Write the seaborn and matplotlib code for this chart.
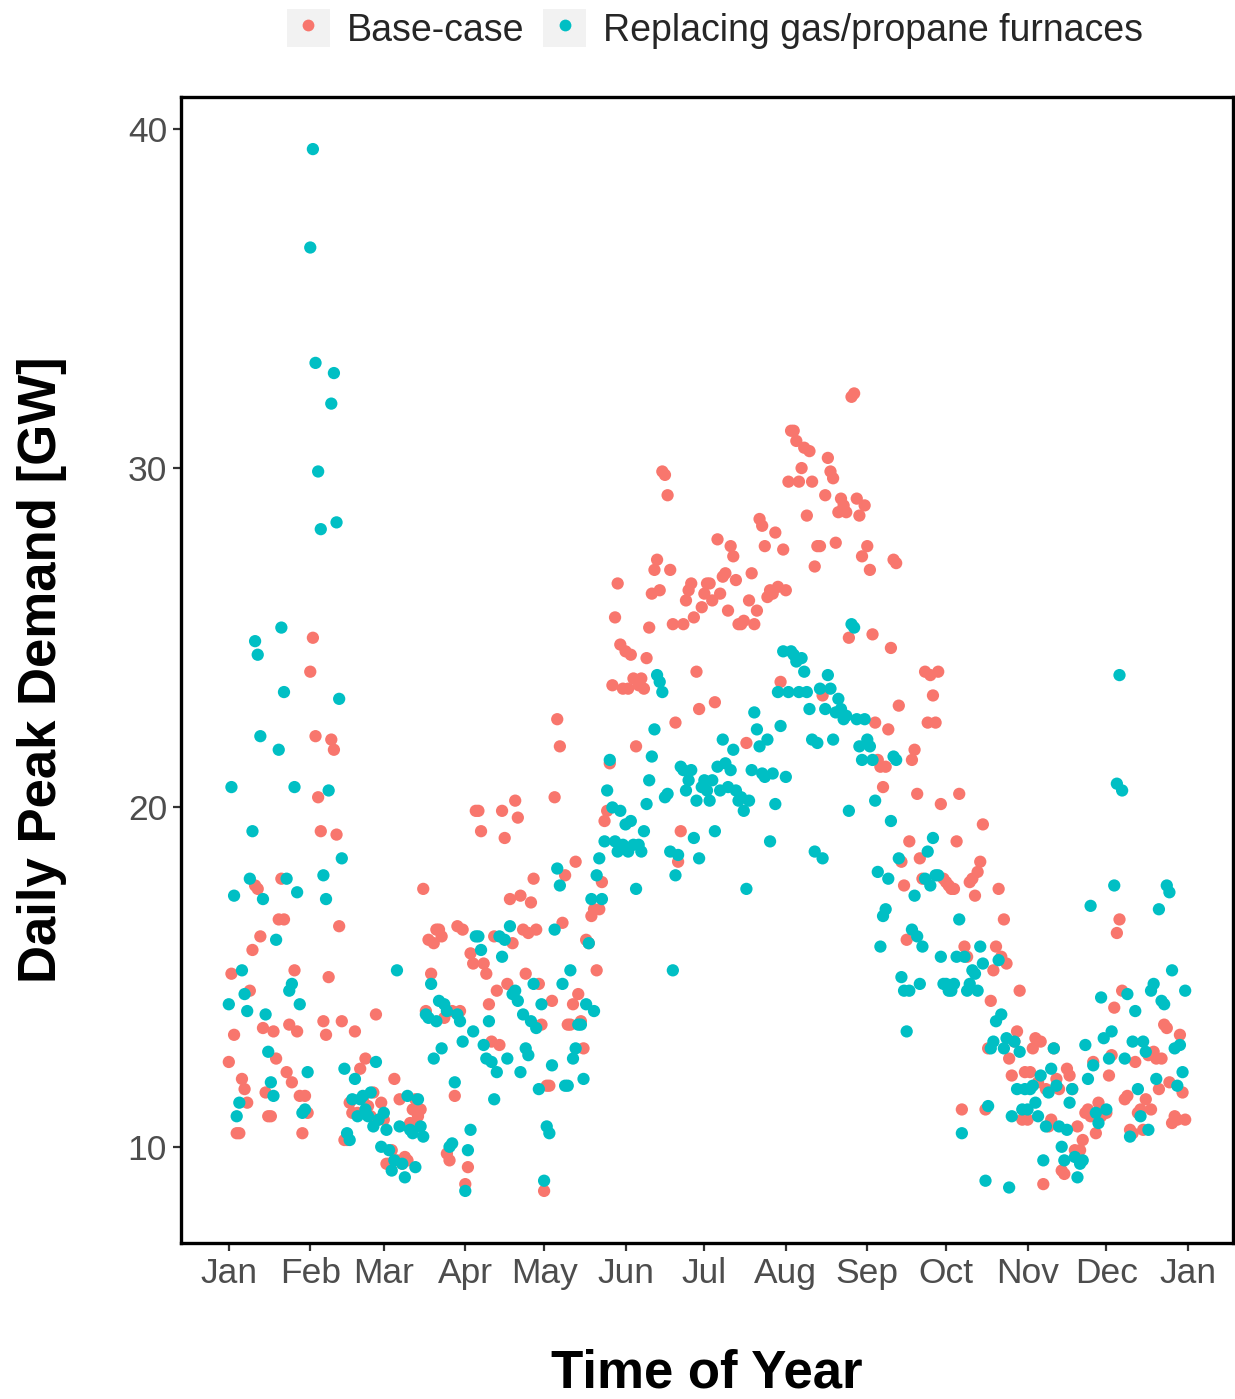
import numpy as np
import pandas as pd
import matplotlib
matplotlib.use("Agg")
import matplotlib.pyplot as plt
import matplotlib.dates as mdates
from matplotlib.patches import Rectangle
from matplotlib.lines import Line2D
from matplotlib.legend_handler import HandlerTuple
import seaborn as sns

# ---------------- data (daily peak demand, GW) ----------------
year = 2019
series_names = ["Base-case", "Replacing gas/propane furnaces"]
colors = ["#F8766D", "#00BFC4"]
month_labels = ["Jan", "Feb", "Mar", "Apr", "May", "Jun", "Jul", "Aug", "Sep", "Oct", "Nov", "Dec", "Jan"]

base_jan = [12.5, 15.1, 13.3, 10.4, 10.4, 12.0, 11.7, 11.3, 14.6, 15.8, 17.7, 17.6, 16.2, 13.5, 11.6, 10.9,
            10.9, 13.4, 12.6, 16.7, 17.9, 16.7, 12.2, 13.6, 11.9, 15.2, 13.4, 11.5, 10.4, 11.5, 11.0]
base_feb = [24.0, 25.0, 22.1, 20.3, 19.3, 13.7, 13.3, 15.0, 22.0, 21.7, 19.2, 16.5, 13.7, 10.2, 10.2, 11.3,
            11.0, 13.4, 11.0, 12.3, 11.4, 12.6, 11.2, 10.9, 11.6, 13.9, 10.8, 11.3]
base_mar = [10.8, 9.5, 9.5, 9.9, 12.0, 9.6, 11.4, 9.5, 9.7, 9.6, 10.7, 11.1, 11.4, 10.9, 11.1, 17.6,
            14.0, 16.1, 15.1, 16.0, 16.4, 16.4, 16.2, 13.8, 9.8, 9.6, 14.0, 11.5, 16.5, 14.0, 16.4]
base_apr = [8.9, 9.4, 15.7, 15.4, 19.9, 19.9, 19.3, 15.4, 15.1, 14.2, 13.1, 16.2, 14.6, 13.0, 19.9, 19.1,
            14.8, 17.3, 16.0, 20.2, 19.7, 17.4, 16.4, 15.1, 16.3, 17.2, 17.9, 16.4, 14.8, 13.6]
base_may = [8.7, 11.8, 11.8, 14.3, 20.3, 22.6, 21.8, 16.6, 18.0, 13.6, 13.6, 14.2, 18.4, 14.5, 13.7, 12.9,
            16.1, 16.0, 16.8, 17.0, 15.2, 17.0, 17.8, 19.6, 19.9, 21.3, 23.6, 25.6, 26.6, 24.8, 23.5]
base_jun = [24.6, 23.5, 24.5, 23.8, 21.8, 23.6, 23.8, 23.5, 24.4, 25.3, 26.3, 27.0, 27.3, 26.4, 29.9, 29.8,
            29.2, 27.0, 25.4, 22.5, 18.4, 19.3, 25.4, 26.1, 26.4, 26.6, 25.6, 24.0, 22.9, 25.9]
base_jul = [26.3, 26.6, 26.6, 26.1, 23.1, 27.9, 26.3, 26.8, 26.9, 25.8, 27.7, 27.4, 26.7, 25.4, 25.4, 25.5,
            21.9, 26.1, 26.9, 25.4, 25.8, 28.5, 28.3, 27.7, 26.2, 26.4, 26.3, 28.1, 26.5, 23.7, 27.6]
base_aug = [26.4, 29.6, 31.1, 31.1, 30.8, 29.6, 30.0, 30.6, 28.6, 30.5, 29.6, 27.1, 27.7, 27.7, 23.3, 29.2,
            30.3, 29.9, 29.7, 27.8, 28.7, 29.1, 28.9, 28.7, 25.0, 32.1, 32.2, 29.1, 28.6, 27.4, 28.9]
base_sep = [27.7, 27.0, 25.1, 22.5, 21.4, 21.2, 20.6, 21.2, 22.3, 24.7, 27.3, 27.2, 23.0, 18.4, 17.7, 16.1,
            19.0, 21.4, 21.7, 20.4, 18.5, 17.9, 24.0, 22.5, 23.9, 23.3, 22.5, 24.0, 20.1, 17.9]
base_oct = [17.8, 17.7, 17.6, 17.6, 19.0, 20.4, 11.1, 15.9, 15.6, 17.8, 17.9, 17.4, 18.1, 18.4, 19.5, 11.1,
            12.9, 14.3, 15.2, 15.9, 17.6, 15.6, 16.7, 15.4, 12.6, 12.1, 13.1, 13.4, 14.6, 10.8, 12.2]
base_nov = [10.8, 12.2, 12.9, 13.2, 11.9, 13.1, 8.9, 11.7, 10.6, 10.8, 12.9, 12.0, 11.7, 9.3, 9.2, 12.3,
            12.1, 11.7, 9.9, 10.6, 9.9, 10.2, 11.0, 11.1, 10.9, 12.5, 10.4, 11.3, 10.9, 11.0]
base_dec = [11.0, 12.1, 12.7, 14.1, 16.3, 16.7, 14.6, 11.4, 11.5, 10.5, 10.4, 12.5, 11.0, 11.1, 10.5, 11.4,
            12.7, 11.1, 12.8, 12.6, 11.7, 12.6, 13.6, 13.5, 11.9, 10.7, 10.9, 10.8, 13.3, 11.6, 10.8]

repl_jan = [14.2, 20.6, 17.4, 10.9, 11.3, 15.2, 14.5, 14.0, 17.9, 19.3, 24.9, 24.5, 22.1, 17.3, 13.9, 12.8,
            11.9, 11.5, 16.1, 21.7, 25.3, 23.4, 17.9, 14.6, 14.8, 20.6, 17.5, 14.2, 11.0, 11.1, 12.2]
repl_feb = [36.5, 39.4, 33.1, 29.9, 28.2, 18.0, 17.3, 20.5, 31.9, 32.8, 28.4, 23.2, 18.5, 12.3, 10.4, 10.2,
            11.4, 12.0, 10.9, 11.4, 11.5, 11.1, 10.9, 11.6, 10.6, 12.5, 10.8, 10.0]
repl_mar = [11.0, 10.5, 9.9, 9.3, 9.6, 15.2, 10.6, 9.5, 9.1, 11.5, 10.5, 10.4, 9.4, 11.4, 10.6, 10.3,
            13.9, 13.8, 14.8, 12.6, 13.7, 14.3, 12.9, 14.2, 14.0, 10.0, 10.1, 11.9, 13.9, 13.7, 13.1]
repl_apr = [8.7, 9.9, 10.5, 13.4, 16.2, 16.2, 15.8, 13.0, 12.6, 13.7, 12.5, 11.4, 12.2, 16.2, 15.6, 16.1,
            12.6, 16.5, 14.5, 14.6, 14.3, 12.2, 13.9, 12.9, 12.7, 13.7, 14.8, 13.5, 11.7, 14.2]
repl_may = [9.0, 10.6, 10.4, 12.4, 16.4, 18.2, 17.7, 14.8, 11.8, 11.8, 15.2, 12.6, 12.9, 13.6, 13.6, 12.0,
            14.2, 16.0, 17.3, 14.0, 18.0, 18.5, 17.3, 19.0, 20.5, 21.4, 20.0, 19.0, 18.7, 19.9, 18.9]
repl_jun = [19.5, 18.7, 19.6, 18.9, 17.6, 18.9, 18.7, 19.3, 20.1, 20.8, 21.5, 22.3, 23.9, 23.7, 23.4, 20.3,
            20.4, 18.7, 15.2, 18.0, 18.6, 21.2, 21.1, 20.5, 20.8, 21.1, 19.1, 20.2, 18.5, 20.6]
repl_jul = [20.8, 20.5, 20.2, 20.8, 19.3, 21.2, 20.5, 22.0, 21.3, 20.6, 21.1, 21.7, 20.5, 20.2, 20.3, 19.9,
            17.6, 20.2, 21.1, 22.8, 22.3, 21.8, 21.0, 20.9, 22.0, 19.0, 21.0, 20.1, 23.4, 22.4, 24.6]
repl_aug = [20.9, 23.4, 24.6, 24.5, 24.3, 23.4, 24.4, 24.0, 23.4, 22.9, 22.0, 18.7, 21.9, 23.5, 18.5, 22.9,
            23.9, 23.5, 22.0, 22.8, 23.2, 22.9, 22.6, 22.7, 19.9, 25.4, 25.3, 22.6, 21.8, 21.4, 22.6]
repl_sep = [22.0, 21.8, 21.4, 20.2, 18.1, 15.9, 16.8, 17.0, 17.9, 19.6, 21.5, 21.4, 18.5, 15.0, 14.6, 13.4,
            14.6, 16.4, 17.4, 16.2, 14.8, 15.9, 17.9, 18.7, 17.7, 19.1, 18.0, 18.0, 15.6, 14.8]
repl_oct = [14.8, 14.6, 14.6, 14.8, 15.6, 16.7, 10.4, 15.6, 14.6, 14.8, 15.2, 15.1, 14.6, 15.9, 15.4, 9.0,
            11.2, 12.9, 13.1, 13.7, 15.5, 13.9, 12.9, 13.2, 8.8, 10.9, 13.1, 11.7, 12.8, 11.1, 11.7]
repl_nov = [11.1, 11.7, 11.8, 11.3, 10.9, 12.1, 9.6, 10.6, 11.6, 12.3, 12.9, 11.8, 10.6, 10.0, 9.6, 10.5,
            11.3, 11.7, 9.7, 9.1, 9.5, 9.6, 13.0, 12.0, 17.1, 12.4, 11.0, 10.7, 14.4, 13.2]
repl_dec = [11.1, 12.6, 13.4, 17.7, 20.7, 23.9, 20.5, 12.6, 14.5, 10.3, 13.1, 14.0, 11.7, 10.9, 13.1, 12.8,
            10.5, 14.6, 14.8, 12.0, 17.0, 14.3, 14.2, 17.7, 17.5, 15.2, 12.9, 11.8, 13.0, 12.2, 14.6]

base_months = [base_jan, base_feb, base_mar, base_apr, base_may, base_jun,
               base_jul, base_aug, base_sep, base_oct, base_nov, base_dec]
repl_months = [repl_jan, repl_feb, repl_mar, repl_apr, repl_may, repl_jun,
               repl_jul, repl_aug, repl_sep, repl_oct, repl_nov, repl_dec]


def month_frame(months, name):
    rows = []
    for m, vals in enumerate(months, start=1):
        dates = pd.date_range(f"{year}-{m:02d}-01", periods=len(vals), freq="D")
        rows.append(pd.DataFrame({"date": dates, "demand": vals, "scenario": name}))
    return pd.concat(rows, ignore_index=True)


df = pd.concat([month_frame(base_months, series_names[0]),
                month_frame(repl_months, series_names[1])], ignore_index=True)

# ---------------- plot ----------------
sns.set_theme(style="white")
plt.rcParams["font.family"] = ["Liberation Sans", "DejaVu Sans"]

fig = plt.figure(figsize=(12.35, 13.99), dpi=100)
ax = fig.add_axes([181 / 1235, 1 - 1243 / 1399, (1233 - 181) / 1235, (1243 - 97) / 1399])

sns.scatterplot(data=df, x="date", y="demand", hue="scenario", hue_order=series_names,
                palette=colors, s=78, linewidth=0, alpha=1, legend=False, ax=ax)

start = pd.Timestamp(f"{year}-01-01")
end = pd.Timestamp(f"{year}-12-31")
span = (end - start).days
ax.set_xlim(mdates.date2num(start - pd.Timedelta(days=0.05 * span)),
            mdates.date2num(end + pd.Timedelta(days=0.05 * span)))
ymin, ymax = df["demand"].min(), df["demand"].max()
yr = ymax - ymin
ax.set_ylim(ymin - 0.05 * yr, ymax + 0.05 * yr)

tick_dates = pd.date_range(f"{year}-01-01", periods=13, freq="MS")
ax.set_xticks(mdates.date2num(tick_dates))
ax.set_xticklabels(month_labels)
ax.set_yticks([10, 20, 30, 40])
ax.set_yticklabels(["10", "20", "30", "40"])

ax.tick_params(axis="both", which="major", direction="out", length=6, width=1.6,
               color="#333333", labelsize=25.5, labelcolor="#4D4D4D", pad=4,
               bottom=True, left=True)
for side in ["left", "bottom", "top", "right"]:
    ax.spines[side].set_linewidth(2.4)
    ax.spines[side].set_color("black")
ax.grid(False)

ax.set_xlabel("Time of Year", fontsize=38, fontweight="bold", color="black", labelpad=42)
ax.set_ylabel("Daily Peak Demand [GW]", fontsize=38, fontweight="bold", color="black", labelpad=44)

# legend with grey key backgrounds
handles = []
for c in colors:
    bg = Rectangle((0, 0), 1, 1, facecolor="#F2F2F2", edgecolor="none")
    dot = Line2D([], [], linestyle="none", marker="o", markersize=8.5,
                 markerfacecolor=c, markeredgewidth=0)
    handles.append((bg, dot))
fig.legend(handles, series_names, handler_map={tuple: HandlerTuple(ndivide=1, pad=0)},
           loc="center", bbox_to_anchor=(715 / 1235, 1 - 29 / 1399), ncol=2, frameon=False,
           fontsize=27, handlelength=1.15, handleheight=1.15, handletextpad=0.45,
           columnspacing=0.5, borderaxespad=0, borderpad=0)

fig.savefig("out.png", dpi=100, facecolor="white")
